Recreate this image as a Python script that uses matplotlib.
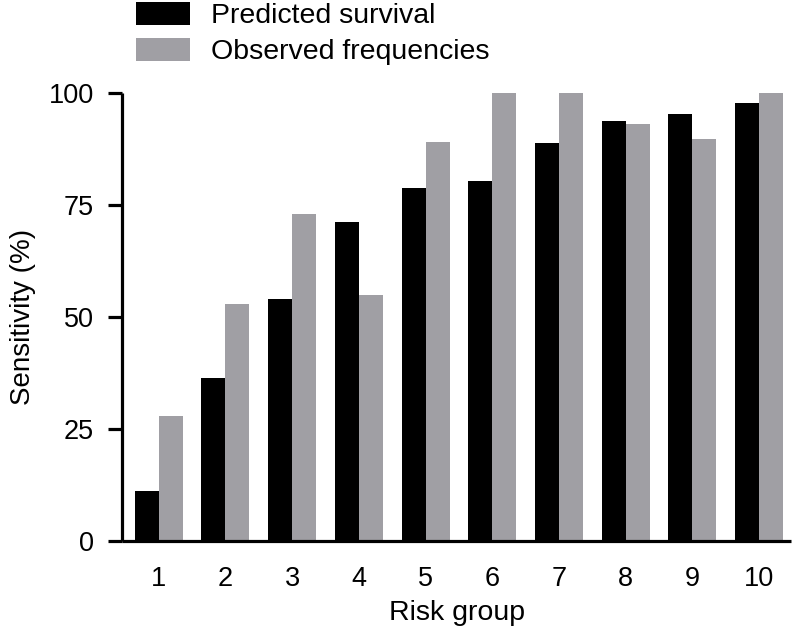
import matplotlib
matplotlib.use("Agg")
import matplotlib.pyplot as plt
import numpy as np

groups = ["1", "2", "3", "4", "5", "6", "7", "8", "9", "10"]
predicted = [11.2, 36.3, 53.9, 71.3, 78.7, 80.4, 88.8, 93.8, 95.2, 97.8]
observed = [27.9, 52.9, 72.9, 54.9, 89.0, 100.0, 100.0, 93.1, 89.7, 100.0]
yticks = [0, 25, 50, 75, 100]

plt.rcParams['font.family'] = ['Liberation Sans', 'DejaVu Sans']

fig = plt.figure(figsize=(7.92, 6.32), dpi=100)
ax = fig.add_axes([0.154, 0.144, 0.845, 0.709])

x = np.arange(1, len(groups) + 1)
w = 0.36
ax.bar(x - w / 2, predicted, width=w, color='black', label='Predicted survival')
ax.bar(x + w / 2, observed, width=w, color='#a09fa4', label='Observed frequencies')

ax.set_xlim(0.45, 10.48)
ax.set_ylim(0, 100)
ax.set_xticks(x)
ax.set_xticklabels(groups)
ax.set_yticks(yticks)
ax.set_yticklabels([str(t) for t in yticks])

for s in ['top', 'right']:
    ax.spines[s].set_visible(False)
for s in ['left', 'bottom']:
    ax.spines[s].set_linewidth(2.3)
    ax.spines[s].set_capstyle('butt')

ax.tick_params(axis='y', length=10, width=2.3, labelsize=19.5, pad=10)
ax.tick_params(axis='x', length=0, labelsize=19.5, pad=18)

ax.set_xlabel('Risk group', fontsize=20.5, labelpad=6)
ax.set_ylabel('Sensitivity (%)', fontsize=20, labelpad=9)

leg = fig.legend(loc='upper left', bbox_to_anchor=(0.1717, 0.997), frameon=False,
                 fontsize=20.5, handlelength=1.9, handleheight=0.88,
                 handletextpad=0.74, labelspacing=0.29, borderaxespad=0,
                 borderpad=0)

fig.savefig('out.png', dpi=100)
